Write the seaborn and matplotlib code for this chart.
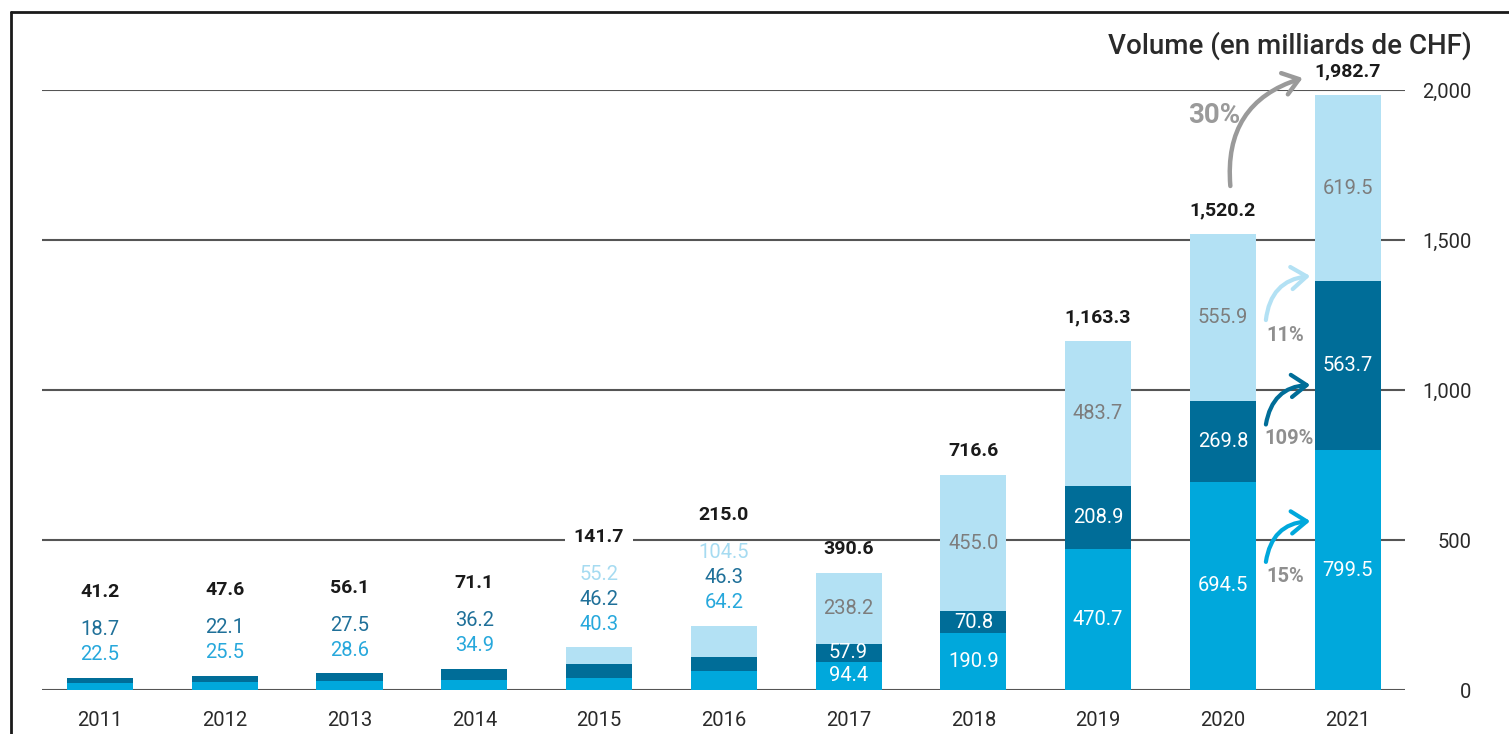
import numpy as np
import pandas as pd
import matplotlib.pyplot as plt
import seaborn as sns
from matplotlib.lines import Line2D

# data
years = [2011, 2012, 2013, 2014, 2015, 2016, 2017, 2018, 2019, 2020, 2021]
bottom_vals = [22.5, 25.5, 28.6, 34.9, 40.3, 64.2, 94.4, 190.9, 470.7, 694.5, 799.5]
middle_vals = [18.7, 22.1, 27.5, 36.2, 46.2, 46.3, 57.9, 70.8, 208.9, 269.8, 563.7]
top_vals = [0.0, 0.0, 0.0, 0.0, 55.2, 104.5, 238.2, 455.0, 483.7, 555.9, 619.5]
totals = [41.2, 47.6, 56.1, 71.1, 141.7, 215.0, 390.6, 716.6, 1163.3, 1520.2, 1982.7]
y_ticks = [0, 500, 1000, 1500, 2000]
growth_labels = ["15%", "109%", "11%"]
growth_total = "30%"
title = "Volume (en milliards de CHF)"

c_bottom = "#00a8dc"
c_middle = "#006d98"
c_top = "#b3e1f4"
c_grey = "#8f8f8f"

df = pd.DataFrame({"year": [str(y) for y in years],
                   "bottom": bottom_vals, "middle": middle_vals, "top": top_vals})
df["cum_mid"] = df["bottom"] + df["middle"]
df["cum_top"] = df["cum_mid"] + df["top"]

sns.set_style("white")
plt.rcParams["font.family"] = ["Roboto", "DejaVu Sans"]

fig = plt.figure(figsize=(15.09, 7.34), dpi=100)
ax = fig.add_axes([42 / 1509, 44 / 734, (1405 - 42) / 1509, 600 / 734])

# stacked bars: draw cumulative heights, largest first
sns.barplot(data=df, x="year", y="cum_top", color=c_top, saturation=1, width=0.53, ax=ax, zorder=3, linewidth=0)
sns.barplot(data=df, x="year", y="cum_mid", color=c_middle, saturation=1, width=0.53, ax=ax, zorder=3, linewidth=0)
sns.barplot(data=df, x="year", y="bottom", color=c_bottom, saturation=1, width=0.53, ax=ax, zorder=3, linewidth=0)

ax.set_xlim(-0.465, 10.46)
ax.set_ylim(0, 2000)
ax.set_yticks(y_ticks)
ax.set_yticklabels([f"{v:,}" for v in y_ticks])
ax.yaxis.tick_right()
ax.tick_params(axis="y", length=0, pad=48, labelsize=14.5, labelcolor="#2a2a2a")
for lab in ax.get_yticklabels():
    lab.set_ha("right")
ax.tick_params(axis="x", length=0, pad=15, labelsize=14.5, labelcolor="#2a2a2a")
ax.set_xlabel("")
ax.set_ylabel("")
ax.grid(axis="y", color="#555555", lw=1.5, zorder=0)
ax.grid(axis="x", visible=False)
ax.set_axisbelow(True)
for s in ax.spines.values():
    s.set_visible(False)

val_box = dict(boxstyle="square,pad=0.05", fc="white", ec="none")
tot_box = dict(boxstyle="square,pad=0.45", fc="white", ec="none")
txt_light = {"bottom": "#27a8dc", "middle": "#1f7099", "top": "#a6dbf1"}

for i, row in df.iterrows():
    top_y = row["cum_top"]
    tot_txt = f"{totals[i]:,.1f}"
    if top_y < 300:
        # values stacked above the small bars
        stack = [("bottom", row["bottom"]), ("middle", row["middle"])]
        if row["top"] > 0:
            stack.append(("top", row["top"]))
        off = 16.5
        for name, v in stack:
            ax.annotate(f"{v:.1f}", (i, top_y), xytext=(0, off), textcoords="offset points",
                        ha="center", va="center", fontsize=14.5, color=txt_light[name],
                        bbox=val_box, zorder=5)
            off += 18
        ax.annotate(tot_txt, (i, top_y), xytext=(0, off + 9), textcoords="offset points",
                    ha="center", va="center", fontsize=14, fontweight="bold", color="#1a1a1a",
                    bbox=tot_box, zorder=5)
    else:
        ax.text(i, row["bottom"] / 2, f"{row['bottom']:.1f}", ha="center", va="center",
                fontsize=14.5, color="white", zorder=5)
        ax.text(i, row["bottom"] + row["middle"] / 2, f"{row['middle']:.1f}", ha="center", va="center",
                fontsize=14.5, color="white", zorder=5)
        ax.text(i, row["cum_mid"] + row["top"] / 2, f"{row['top']:.1f}", ha="center", va="center",
                fontsize=14.5, color="#7d7d7d", zorder=5)
        ax.annotate(tot_txt, (i, top_y), xytext=(0, 17), textcoords="offset points",
                    ha="center", va="center", fontsize=14, fontweight="bold", color="#1a1a1a",
                    zorder=5, annotation_clip=False)

# growth arrows 2020 -> 2021
def growth_arrow(start, end, color, lw=3):
    ax.annotate("", xy=end, xytext=start, annotation_clip=False,
                arrowprops=dict(arrowstyle="->,head_length=0.55,head_width=0.4", color=color, lw=lw,
                                mutation_scale=20, shrinkA=0, shrinkB=0,
                                connectionstyle="arc3,rad=-0.4"), zorder=6)

growth_arrow((9.345, 427), (9.70, 563), c_bottom)
ax.text(9.5, 377, growth_labels[0], ha="center", va="center", fontsize=14.5, color=c_grey,
        fontweight="semibold", zorder=6)
growth_arrow((9.345, 885), (9.70, 1017), c_middle)
ax.text(9.53, 840, growth_labels[1], ha="center", va="center", fontsize=14.5, color=c_grey,
        fontweight="semibold", zorder=6)
growth_arrow((9.345, 1233), (9.70, 1380), c_top)
ax.text(9.5, 1183, growth_labels[2], ha="center", va="center", fontsize=14.5, color=c_grey,
        fontweight="semibold", zorder=6)
growth_arrow((9.06, 1680), (9.64, 2040), "#9a9a9a", lw=3.2)
ax.text(8.93, 1915, growth_total, ha="center", va="center", fontsize=20, color="#9a9a9a",
        fontweight="semibold", zorder=6)

fig.text(1472 / 1509, 1 - 46 / 734, title, ha="right", va="center", fontsize=20,
         fontweight="medium", color="#2a2a2a")

# frame lines
fig.add_artist(Line2D([11 / 1509, 1], [1 - 12 / 734, 1 - 12 / 734], color="#1a1a1a", lw=2))
fig.add_artist(Line2D([11 / 1509, 11 / 1509], [0, 1 - 12 / 734], color="#1a1a1a", lw=2))

fig.savefig("out.png", dpi=100)
